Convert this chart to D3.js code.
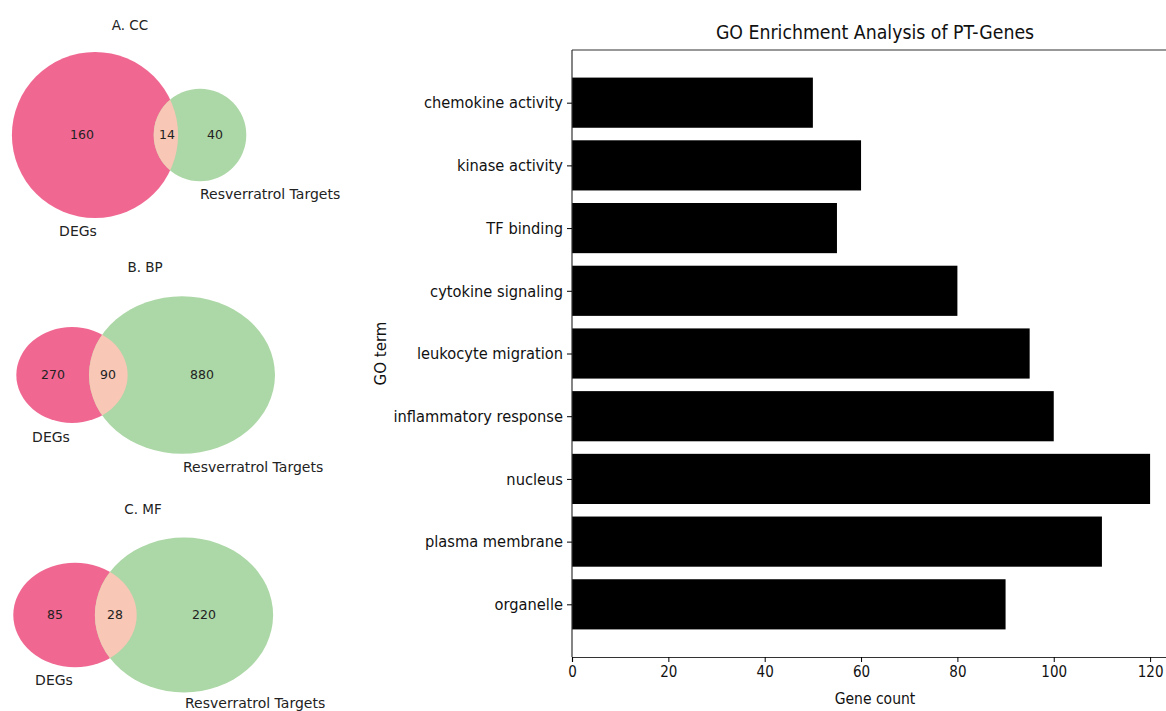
<!DOCTYPE html>
<html lang="en">
<head>
<meta charset="UTF-8">
<title>GO Enrichment Analysis of PT-Genes</title>
<script src="https://cdn.jsdelivr.net/npm/d3@7"></script>
<style>
  body { margin: 0; background: #fff; }
  .venn text { font-family: "DejaVu Sans", sans-serif; fill: #222; }
  .bars text { font-family: "DejaVu Sans Condensed", "DejaVu Sans", sans-serif; font-stretch: condensed; fill: #111; }
</style>
</head>
<body>
<svg width="1166" height="711"></svg>
<script>
// ---- data ----
var vennTitles = ["A. CC", "B. BP", "C. MF"];
var degOnly = [160, 270, 85];
var shared = [14, 90, 28];
var targetOnly = [40, 880, 220];
var setNames = ["DEGs", "Resverratrol Targets"];

var goTerms = ["chemokine activity", "kinase activity", "TF binding", "cytokine signaling",
               "leukocyte migration", "inflammatory response", "nucleus", "plasma membrane", "organelle"];
var geneCount = [50, 60, 55, 80, 95, 100, 120, 110, 90];
var xTicks = [0, 20, 40, 60, 80, 100, 120];

var svg = d3.select("svg");

// ---- venn panels (layout only) ----
var panels = [
  {cy: 135, k: 6.3,  deg: {cx: 95,  sx: 1.0},  tgt: {cx: 200, sx: 1.0},
   title: [130, 30], nums: [82, 167, 215], degLab: [78, 236], tgtLab: [200, 199]},
  {cy: 375, k: 2.53, deg: {cx: 72,  sx: 1.16}, tgt: {cx: 182, sx: 1.18},
   title: [145, 272], nums: [53, 108, 202], degLab: [51, 442], tgtLab: [183, 472]},
  {cy: 615, k: 4.92, deg: {cx: 75,  sx: 1.18}, tgt: {cx: 184, sx: 1.15},
   title: [143, 514], nums: [55, 115, 204], degLab: [54, 685], tgtLab: [185, 708]}
];
var pink = "#f06892", green = "#acd7a6", lens = "#f8c7b5";

var venn = svg.append("g").attr("class", "venn");
panels.forEach(function(p, i) {
  var rDeg = p.k * Math.sqrt(degOnly[i] + shared[i]);
  var rTgt = p.k * Math.sqrt(targetOnly[i] + shared[i]);
  var g = venn.append("g");

  g.append("text").attr("x", p.title[0]).attr("y", p.title[1])
    .attr("text-anchor", "middle").attr("font-size", 13.5).text(vennTitles[i]);

  g.append("ellipse").attr("cx", p.deg.cx).attr("cy", p.cy)
    .attr("rx", rDeg * p.deg.sx).attr("ry", rDeg).attr("fill", pink);
  g.append("ellipse").attr("cx", p.tgt.cx).attr("cy", p.cy)
    .attr("rx", rTgt * p.tgt.sx).attr("ry", rTgt).attr("fill", green);

  // overlap = target ellipse clipped by the DEG ellipse
  var clipId = "clip" + i;
  g.append("clipPath").attr("id", clipId).append("ellipse")
    .attr("cx", p.deg.cx).attr("cy", p.cy)
    .attr("rx", rDeg * p.deg.sx).attr("ry", rDeg);
  g.append("ellipse").attr("cx", p.tgt.cx).attr("cy", p.cy)
    .attr("rx", rTgt * p.tgt.sx).attr("ry", rTgt)
    .attr("clip-path", "url(#" + clipId + ")").attr("fill", lens);

  [degOnly[i], shared[i], targetOnly[i]].forEach(function(v, j) {
    g.append("text").attr("x", p.nums[j]).attr("y", p.cy).attr("dy", "0.35em")
      .attr("text-anchor", "middle").attr("font-size", 12.5).text(v);
  });

  g.append("text").attr("x", p.degLab[0]).attr("y", p.degLab[1])
    .attr("text-anchor", "middle").attr("font-size", 14).text(setNames[0]);
  g.append("text").attr("x", p.tgtLab[0]).attr("y", p.tgtLab[1])
    .attr("text-anchor", "start").attr("font-size", 14).text(setNames[1]);
});

// ---- bar chart ----
var plotLeft = 572, plotTop = 50, plotBottom = 657;
var x = d3.scaleLinear().domain([0, 126]).range([plotLeft, plotLeft + 607]);
// matplotlib style: bars of height 0.8 on unit spacing, 5% margins
var n = goTerms.length;
var y = d3.scaleLinear().domain([-0.4 - 0.44, n - 1 + 0.4 + 0.44]).range([plotTop, plotBottom]);

var bars = svg.append("g").attr("class", "bars");

bars.selectAll("rect").data(goTerms).enter().append("rect")
  .attr("x", x(0))
  .attr("y", function(d, i) { return y(i - 0.4); })
  .attr("height", function(d, i) { return y(i + 0.4) - y(i - 0.4); })
  .attr("width", function(d, i) { return x(geneCount[i]) - x(0); })
  .attr("fill", "#000");

// spines
bars.append("line").attr("x1", plotLeft).attr("x2", 1179).attr("y1", plotTop).attr("y2", plotTop)
  .attr("stroke", "#333").attr("stroke-width", 1.2);
bars.append("line").attr("x1", plotLeft).attr("x2", plotLeft).attr("y1", plotTop).attr("y2", plotBottom)
  .attr("stroke", "#333").attr("stroke-width", 1.2);

var xAxis = bars.append("g").attr("transform", "translate(0," + plotBottom + ")")
  .call(d3.axisBottom(x).tickValues(xTicks).tickSize(5).tickPadding(4));
xAxis.select(".domain").attr("stroke", "#333").attr("stroke-width", 1.2);
xAxis.selectAll("text").attr("font-size", 15);

var yAxis = bars.append("g").attr("transform", "translate(" + plotLeft + ",0)")
  .call(d3.axisLeft(y).tickValues(d3.range(n)).tickFormat(function(i) { return goTerms[i]; })
    .tickSize(5).tickPadding(4));
yAxis.select(".domain").remove();
yAxis.selectAll("text").attr("font-size", 16.3);

bars.append("text").attr("x", 875).attr("y", 39).attr("text-anchor", "middle")
  .attr("font-size", 19.3).text("GO Enrichment Analysis of PT-Genes");
bars.append("text").attr("x", 875).attr("y", 704).attr("text-anchor", "middle")
  .attr("font-size", 15.5).text("Gene count");
bars.append("text").attr("transform", "translate(386," + ((plotTop + plotBottom) / 2) + ") rotate(-90)")
  .attr("text-anchor", "middle").attr("font-size", 15)
  .style("font-family", "'DejaVu Sans', sans-serif").style("font-stretch", "normal")
  .text("GO term");
</script>
</body>
</html>
